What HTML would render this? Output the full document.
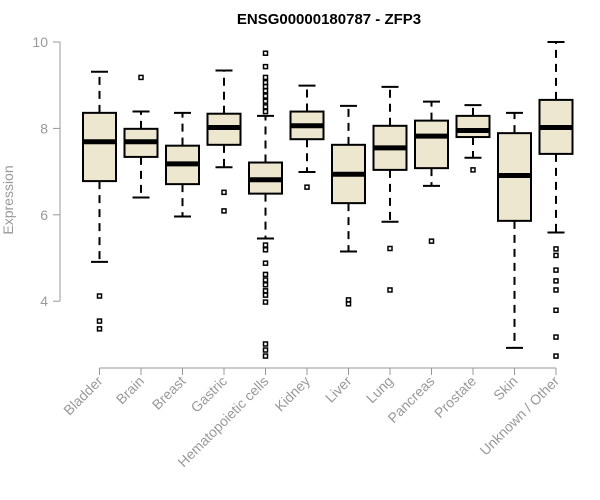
<!DOCTYPE html>
<html><head><meta charset="utf-8"><style>
body{margin:0;background:#fff}
svg{display:block}
text{font-family:"Liberation Sans",Arial,sans-serif}
</style></head><body>
<svg id="chart" width="600" height="500" viewBox="0 0 600 500">
<text x="329" y="24" text-anchor="middle" font-size="15" font-weight="bold">ENSG00000180787 - ZFP3</text>
<text transform="translate(13,200) rotate(-90)" text-anchor="middle" font-size="14" fill="#999">Expression</text>
<g id="plot"></g>
</svg>
<script>
const categories=["Bladder","Brain","Breast","Gastric","Hematopoietic cells","Kidney","Liver","Lung","Pancreas","Prostate","Skin","Unknown / Other"];
const whiskerLow=[4.91,6.40,5.96,7.10,5.45,6.99,5.15,5.84,6.67,7.32,2.92,5.59];
const q1=[6.78,7.34,6.71,7.62,6.49,7.75,6.27,7.04,7.08,7.80,5.86,7.41];
const medians=[7.69,7.69,7.18,8.02,6.81,8.06,6.94,7.55,7.82,7.95,6.91,8.02];
const q3=[8.36,7.99,7.60,8.34,7.21,8.39,7.62,8.06,8.18,8.29,7.89,8.66];
const whiskerHigh=[9.31,8.39,8.36,9.34,8.29,8.99,8.52,8.96,8.62,8.54,8.36,10.0];
const outliers=[[4.12,3.54,3.36],[9.18],[],[6.52,6.09],
[9.74,9.43,9.18,9.06,8.97,8.87,8.75,8.63,8.50,8.39,5.30,5.19,4.88,4.62,4.49,4.38,4.24,4.14,3.98,3.01,2.87,2.73],
[6.64],[4.03,3.94],[5.22,4.26],[5.39],[7.04],[],[5.21,5.06,4.72,4.47,4.26,3.79,3.17,2.73]];
const yTicks=[4,6,8,10];

const NS="http://www.w3.org/2000/svg";
const g=document.getElementById('plot');
const y=v=>42+(10-v)*43.2;
const x=i=>99.5+i*41.5;
function el(tag,attrs,parent){const e=document.createElementNS(NS,tag);for(const k in attrs)e.setAttribute(k,attrs[k]);(parent||g).appendChild(e);return e;}

// y axis
const ya=el('line',{x1:60,x2:60,y1:y(4),y2:y(10),stroke:'#999'});


yTicks.forEach(t=>{
  const tl=el('line',{x1:53,x2:60,y1:y(t),y2:y(t),stroke:'#999'});
  
  
  const tx=el('text',{x:48,y:y(t)+5,'text-anchor':'end','font-size':14,fill:'#999'});
  tx.textContent=t;
  
  
});
// x axis
const xa=el('line',{x1:x(0),x2:x(categories.length-1),y1:368,y2:368,stroke:'#999'});


categories.forEach((c,i)=>{
  const cx=x(i);
  const tk=el('line',{x1:cx,x2:cx,y1:368,y2:375,stroke:'#999'});
  
  
  const lb=el('text',{transform:`translate(${cx+4},${382}) rotate(-45)`,'text-anchor':'end','font-size':14,fill:'#999'});
  lb.textContent=c;
  
  

  const grp=el('g',{});
  
  
  const hw=16.5, cw=8.5;
  el('line',{x1:cx,x2:cx,y1:y(q3[i]),y2:y(whiskerHigh[i]),stroke:'#000','stroke-width':2,'stroke-dasharray':'8,6'},grp);
  el('line',{x1:cx,x2:cx,y1:y(q1[i]),y2:y(whiskerLow[i]),stroke:'#000','stroke-width':2,'stroke-dasharray':'8,6'},grp);
  el('line',{x1:cx-cw,x2:cx+cw,y1:y(whiskerHigh[i]),y2:y(whiskerHigh[i]),stroke:'#000','stroke-width':2},grp);
  el('line',{x1:cx-cw,x2:cx+cw,y1:y(whiskerLow[i]),y2:y(whiskerLow[i]),stroke:'#000','stroke-width':2},grp);
  el('rect',{x:cx-hw,y:y(q3[i]),width:2*hw,height:y(q1[i])-y(q3[i]),fill:'#ede7cf',stroke:'#000','stroke-width':2},grp);
  el('line',{x1:cx-hw,x2:cx+hw,y1:y(medians[i]),y2:y(medians[i]),stroke:'#000','stroke-width':5},grp);
  outliers[i].forEach(o=>{
    const p=el('rect',{x:cx-2,y:y(o)-2,width:4,height:4,fill:'none',stroke:'#000','stroke-width':1.5},grp);
    
    
  });
});
</script>
</body></html>
